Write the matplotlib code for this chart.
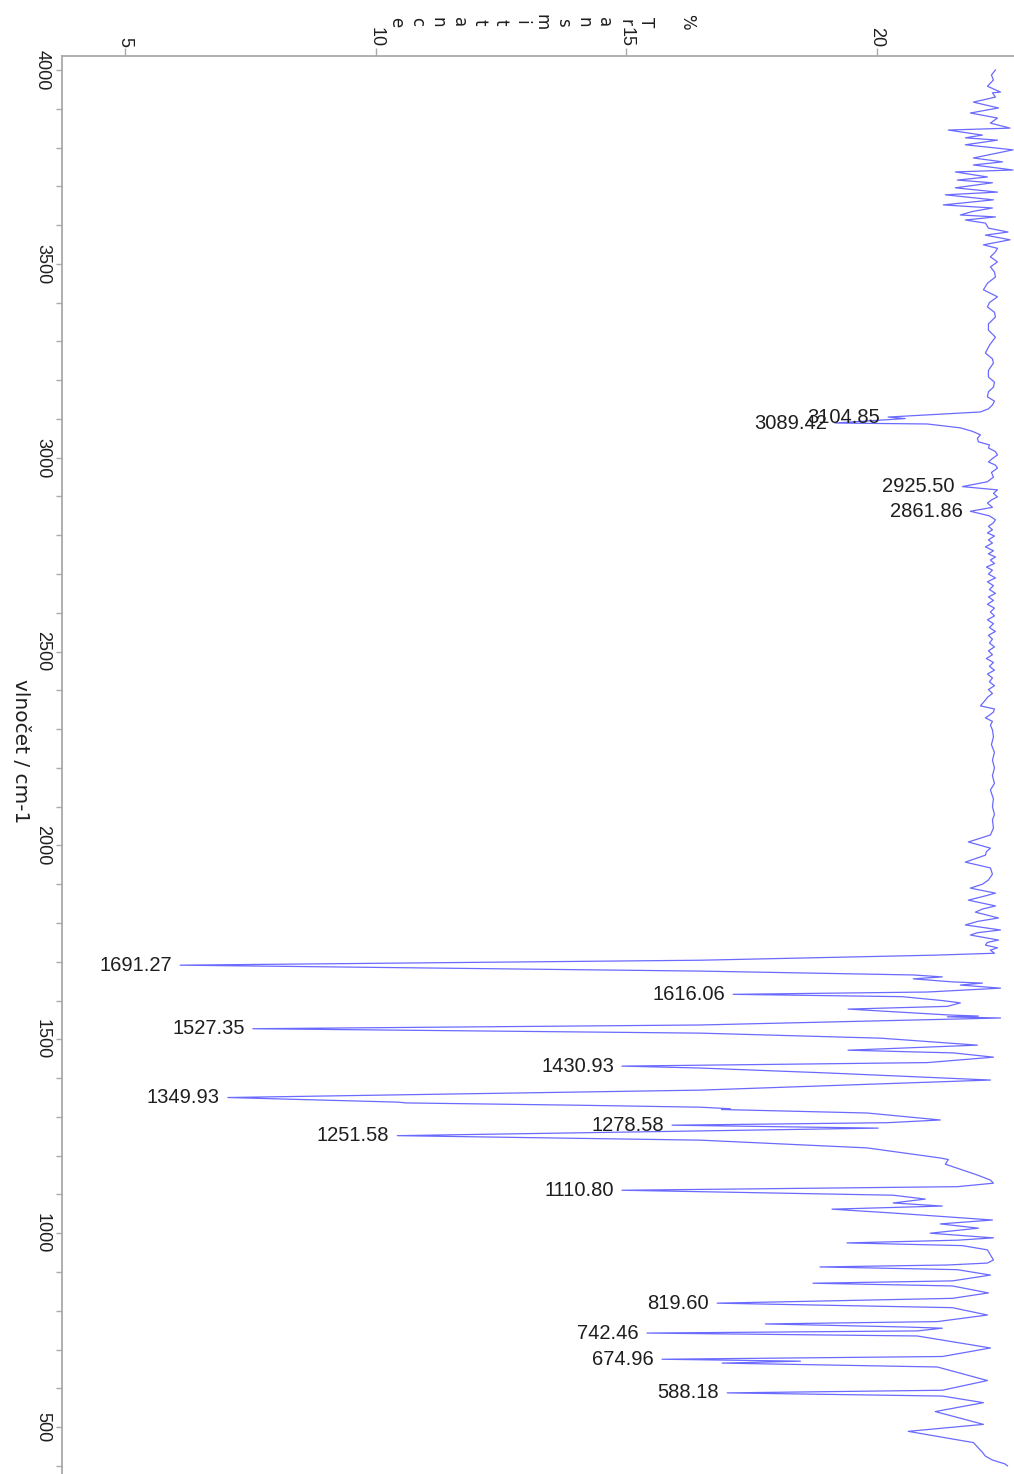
import matplotlib.pyplot as plt

# IR spectrum: wavenumber (cm-1) and transmittance (%)
wavenumber = [
    4000, 3987, 3974, 3958, 3943, 3941, 3930, 3917, 3902, 3889, 3876, 3863,
    3850, 3845, 3832, 3825, 3819, 3807, 3794, 3783, 3773, 3763, 3755, 3742,
    3737, 3724, 3716, 3709, 3696, 3685, 3678, 3665, 3652, 3644, 3635, 3626,
    3621, 3613, 3605, 3592, 3582, 3574, 3562, 3549, 3540, 3531, 3518, 3505,
    3492, 3479, 3466, 3450, 3433, 3415, 3400, 3389, 3375, 3363, 3345, 3329,
    3311, 3290, 3270, 3255, 3244, 3225, 3208, 3195, 3182, 3170, 3157, 3146,
    3136, 3126, 3118, 3104.85, 3101, 3089.42, 3087, 3077, 3068, 3059, 3050, 3041,
    3033, 3025, 3016, 3007, 2998, 2989, 2981, 2973, 2962, 2950, 2938, 2925.50,
    2917, 2908, 2899, 2891, 2883, 2872, 2861.86, 2850, 2840, 2832, 2823, 2814,
    2806, 2798, 2788, 2780, 2770, 2760, 2752, 2744, 2736, 2727, 2718, 2710,
    2700, 2690, 2680, 2670, 2660, 2650, 2641, 2632, 2622, 2612, 2602, 2592,
    2582, 2572, 2562, 2552, 2542, 2532, 2522, 2512, 2502, 2492, 2482, 2472,
    2462, 2452, 2442, 2432, 2422, 2412, 2402, 2392, 2382, 2375, 2360, 2352,
    2344, 2336, 2329, 2320, 2310, 2298, 2280, 2260, 2240, 2220, 2200, 2180,
    2160, 2143, 2120, 2100, 2080, 2066, 2045, 2027, 2009, 1993, 1984, 1975,
    1957, 1942, 1926, 1911, 1900, 1890, 1877, 1868, 1859, 1844, 1836, 1828,
    1813, 1804, 1795, 1782, 1775, 1769, 1756, 1750, 1743, 1736, 1730, 1722,
    1717, 1704, 1691.27, 1676, 1666, 1661, 1656, 1648, 1645, 1640, 1632, 1622,
    1616.06, 1610, 1600, 1594, 1585, 1578, 1563, 1560, 1558, 1555, 1537, 1527.35,
    1516, 1503, 1485, 1472, 1465, 1454, 1440, 1430.93, 1426, 1413, 1395, 1369,
    1349.93, 1338, 1336, 1330, 1325, 1321, 1319, 1310, 1292, 1285, 1278.58, 1271,
    1251.58, 1240, 1220, 1194, 1190, 1178, 1171, 1150, 1137, 1129, 1120, 1110.80,
    1098, 1088, 1078, 1070, 1062, 1052, 1034, 1024, 1013, 1000, 988, 982,
    975, 968, 957, 931, 923, 918, 913, 906, 892, 877, 871, 864,
    846, 832, 819.60, 808, 789, 772, 766, 758, 755, 748, 742.46, 735,
    704, 682, 674.96, 670, 665, 655, 620, 595, 588.18, 580, 563, 540,
    507, 489, 460, 435, 425, 415, 405, 400,
]
transmittance = [
    22.36, 22.28, 22.32, 22.20, 22.46, 22.30, 22.36, 21.92, 22.42, 21.86, 22.40, 22.26,
    22.65, 21.42, 22.10, 21.76, 22.40, 21.76, 22.71, 22.30, 21.92, 22.50, 21.92, 22.71,
    21.56, 22.20, 21.60, 22.30, 21.56, 22.40, 21.36, 22.32, 21.32, 22.30, 21.90, 21.66,
    22.36, 21.76, 22.16, 22.22, 22.61, 22.16, 22.65, 22.12, 22.40, 22.36, 22.26, 22.40,
    22.26, 22.34, 22.36, 22.20, 22.12, 22.40, 22.24, 22.20, 22.34, 22.36, 22.22, 22.22,
    22.36, 22.24, 22.16, 22.30, 22.32, 22.22, 22.22, 22.34, 22.32, 22.22, 22.20, 22.34,
    22.30, 22.22, 22.06, 20.22, 20.56, 19.16, 21.00, 21.66, 21.90, 22.06, 22.00, 22.02,
    22.24, 22.22, 22.36, 22.40, 22.30, 22.22, 22.36, 22.40, 22.28, 22.32, 22.20, 21.70,
    22.40, 22.32, 22.40, 22.28, 22.20, 22.30, 21.86, 22.24, 22.36, 22.32, 22.22, 22.30,
    22.20, 22.34, 22.22, 22.30, 22.16, 22.32, 22.22, 22.36, 22.26, 22.34, 22.18, 22.30,
    22.22, 22.36, 22.20, 22.32, 22.24, 22.36, 22.22, 22.32, 22.20, 22.34, 22.26, 22.34,
    22.20, 22.32, 22.24, 22.36, 22.22, 22.30, 22.24, 22.34, 22.22, 22.30, 22.18, 22.32,
    22.24, 22.34, 22.20, 22.30, 22.24, 22.34, 22.22, 22.30, 22.20, 22.16, 22.06, 22.34,
    22.32, 22.24, 22.16, 22.30, 22.26, 22.30, 22.32, 22.28, 22.34, 22.30, 22.34, 22.30,
    22.34, 22.26, 22.32, 22.30, 22.34, 22.30, 22.32, 22.26, 21.82, 22.26, 22.18, 22.16,
    21.76, 22.26, 22.30, 22.22, 22.10, 21.86, 22.36, 22.10, 21.82, 22.36, 22.10, 21.96,
    22.42, 22.00, 21.76, 22.46, 22.00, 21.86, 22.42, 22.20, 22.16, 22.40, 22.26, 22.34,
    21.12, 16.47, 6.10, 16.47, 20.72, 21.30, 20.72, 21.52, 22.10, 21.66, 22.46, 21.00,
    17.13, 20.50, 21.30, 21.66, 21.40, 19.42, 21.40, 22.02, 21.40, 22.46, 16.47, 7.55,
    16.47, 20.07, 22.00, 19.42, 21.52, 22.32, 21.00, 14.91, 16.47, 19.06, 22.26, 16.47,
    7.05, 10.45, 10.60, 14.08, 16.47, 17.07, 16.90, 19.80, 21.26, 20.20, 15.91, 20.02,
    10.43, 16.47, 19.80, 21.26, 21.42, 21.36, 21.52, 22.00, 22.26, 22.32, 21.60, 14.91,
    20.32, 20.96, 20.32, 21.30, 19.10, 20.32, 22.30, 21.26, 22.02, 21.06, 22.32, 21.60,
    19.40, 21.70, 22.20, 22.32, 22.20, 21.40, 18.86, 21.60, 22.26, 21.50, 18.72, 21.50,
    22.22, 21.50, 16.81, 21.50, 22.20, 21.20, 17.77, 20.60, 21.30, 20.80, 15.41, 20.80,
    22.26, 21.30, 15.71, 18.47, 16.91, 21.20, 22.20, 21.30, 17.01, 21.30, 22.12, 21.16,
    22.12, 20.62, 21.92, 22.10, 22.16, 22.30, 22.55, 22.60,
]

peaks = [3104.85, 3089.42, 2925.50, 2861.86, 1691.27, 1616.06, 1527.35, 1430.93,
         1349.93, 1278.58, 1251.58, 1110.80, 819.60, 742.46, 674.96, 588.18]

x_ticks = [5, 10, 15, 20]
y_ticks = [500, 1000, 1500, 2000, 2500, 3000, 3500, 4000]
y_minor = list(range(400, 4001, 100))

grey = '#a9a9a9'
ink = '#1e1e1e'
fig = plt.figure(figsize=(10.14, 14.74), dpi=100)
ax = fig.add_axes([62 / 1014, 0, 1 - 62 / 1014, 1 - 56 / 1474])

ax.plot(transmittance, wavenumber, color='#6a6aff', lw=0.9)

for p in peaks:
    t = transmittance[wavenumber.index(p)]
    ax.annotate(f'{p:.2f}', xy=(t, p), xytext=(-8, 0), textcoords='offset pixels',
                ha='right', va='center', fontsize=14.5, family='Liberation Sans',
                color=ink)

ax.set_xlim(3.743, 22.73)
ax.set_ylim(379, 4036)

ax.set_xticks(x_ticks)
ax.set_yticks(y_ticks)
ax.set_yticks(y_minor, minor=True)
ax.xaxis.tick_top()
for s in ['bottom', 'right']:
    ax.spines[s].set_visible(False)
for s in ['top', 'left']:
    ax.spines[s].set_color(grey)
    ax.spines[s].set_linewidth(1.3)

ax.tick_params(axis='x', length=6, width=1, color=grey, pad=0.5, labelsize=13,
               labelrotation=-90, labelcolor=ink)
ax.tick_params(axis='y', which='both', length=4, width=1, color=grey, pad=4,
               labelsize=13, labelrotation=-90, labelcolor=ink)
for lab in ax.get_xticklabels() + ax.get_yticklabels():
    lab.set_family('Liberation Sans')
for lab in ax.get_yticklabels():
    lab.set_va('center')

fig.text(20 / 1014, 1 - 751 / 1474, 'vlnočet / cm-1', rotation=-90,
         ha='center', va='center', fontsize=14.5, color=ink)
fig.text(542 / 1014, 1 - 22 / 1474, '%\n\nT\nr\na\nn\ns\nm\ni\nt\nt\na\nn\nc\ne',
         rotation=-90, ha='center', va='center', fontsize=12, color=ink)

fig.savefig('out.png', dpi=100)
